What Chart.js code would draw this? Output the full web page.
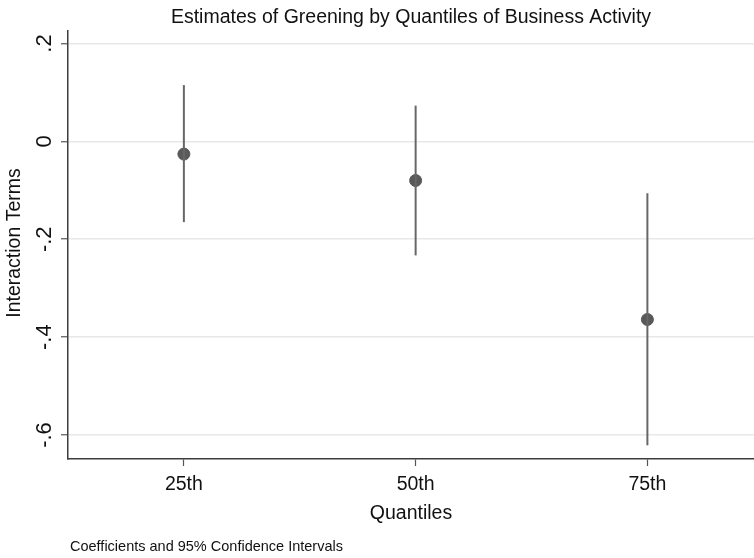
<html lang="en">
<head>
  <meta charset="UTF-8">
  <title>Estimates of Greening</title>
  <script src="https://cdn.jsdelivr.net/npm/chart.js"></script>
  <style>
    html, body { margin: 0; padding: 0; background: #fff; }
    #wrap { width: 754px; height: 558px; }
  </style>
  <script>
    const quantiles = ['25th', '50th', '75th']
    const estimates = [-0.026, -0.080, -0.364]
    const ciLow = [-0.165, -0.233, -0.621]
    const ciHigh = [0.115, 0.073, -0.106]
    const yTicks = [0.2, 0, -0.2, -0.4, -0.6]
    const yTickLabels = ['.2', '0', '-.2', '-.4', '-.6']

    const font = '"Liberation Sans", Arial, Helvetica, sans-serif'

    // rotated y labels, titles and the note, drawn by hand
    const textPlugin = {
      id: 'texts',
      afterDraw(chart) {
        const ctx = chart.ctx
        const x = chart.scales.x
        const y = chart.scales.y
        const area = chart.chartArea
        ctx.save()
        ctx.fillStyle = '#111'
        ctx.textAlign = 'center'
        ctx.textBaseline = 'middle'

        ctx.font = '19.5px ' + font
        ctx.fillText('Estimates of Greening by Quantiles of Business Activity', (area.left + area.right) / 2, 18)

        yTicks.forEach((v, i) => {
          ctx.save()
          ctx.translate(45, y.getPixelForValue(v))
          ctx.rotate(-Math.PI / 2)
          ctx.font = '22px ' + font
          ctx.fillText(yTickLabels[i], 0, 0)
          ctx.restore()
        })

        ctx.save()
        ctx.translate(15, 243)
        ctx.rotate(-Math.PI / 2)
        ctx.font = '19.5px ' + font
        ctx.fillText('Interaction Terms', 0, 0)
        ctx.restore()

        ctx.font = '19.5px ' + font
        quantiles.forEach((q, i) => {
          ctx.fillText(q, x.getPixelForValue(i + 1), 485)
        })

        ctx.fillText('Quantiles', (area.left + area.right) / 2, 514)

        ctx.textAlign = 'left'
        ctx.font = '14.5px ' + font
        ctx.fillText('Coefficients and 95% Confidence Intervals', 70, 547)
        ctx.restore()
      }
    }

    window.onload = () => {
      const chart = document.getElementById('chart')

      const ciSets = quantiles.map((q, i) => ({
        type: 'line',
        label: q + ' CI',
        data: [{ x: i + 1, y: ciLow[i] }, { x: i + 1, y: ciHigh[i] }],
        borderColor: '#676767',
        borderWidth: 2,
        pointRadius: 0,
        showLine: true
      }))

      new Chart(chart, {
        type: 'scatter',
        data: {
          datasets: [
            ...ciSets,
            {
              label: 'Estimate',
              data: estimates.map((v, i) => ({ x: i + 1, y: v })),
              backgroundColor: '#595959',
              borderColor: '#595959',
              pointRadius: 6,
              pointHoverRadius: 6
            }
          ]
        },
        options: {
          responsive: false,
          animation: false,
          layout: { autoPadding: false, padding: { left: 0, right: 0, top: 31, bottom: 0 } },
          plugins: { legend: { display: false }, tooltip: { enabled: false } },
          scales: {
            x: {
              type: 'linear',
              min: 0.5,
              max: 3.46,
              afterBuildTicks: s => { s.ticks = quantiles.map((q, i) => ({ value: i + 1 })) },
              afterFit: s => { s.height = 99 },
              ticks: { display: false },
              grid: { drawOnChartArea: false, drawTicks: true, tickLength: 7, tickColor: '#555', tickWidth: 1.2 },
              border: { color: '#3d3d3d', width: 1.5 }
            },
            y: {
              min: -0.649,
              max: 0.2255,
              afterBuildTicks: s => { s.ticks = yTicks.map(v => ({ value: v })) },
              afterFit: s => { s.width = 68 },
              ticks: { display: false },
              grid: { color: '#e8e8e8', lineWidth: 1.5, drawTicks: true, tickLength: 7, tickColor: '#555', tickWidth: 1.2 },
              border: { color: '#3d3d3d', width: 1.5 }
            }
          }
        },
        plugins: [textPlugin]
      })
    }
  </script>
</head>
<body>
  <div id="wrap">
    <canvas id="chart" width="754" height="558"></canvas>
  </div>
</body>
</html>
